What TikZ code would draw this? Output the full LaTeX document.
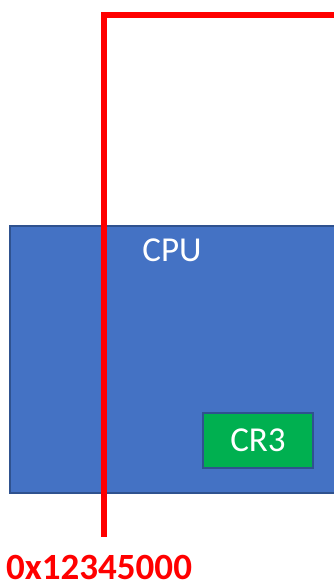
\documentclass[tikz,border=0pt]{standalone}
\usepackage{fontspec}
\setmainfont{Carlito}
\definecolor{cpublue}{HTML}{4472C4}
\definecolor{edgeblue}{HTML}{2F528F}
\definecolor{crgreen}{HTML}{00B050}
\definecolor{addrred}{HTML}{FF0000}
\tikzset{
  bigtext/.style={font=\fontsize{35}{40}\selectfont},
  crbox/.style={draw=edgeblue, line width=1.5pt, fill=crgreen, text=white, bigtext,
    minimum width=110pt, minimum height=55pt, inner sep=0pt},
  cpulabel/.style={text=white, bigtext, inner sep=0pt, anchor=base},
  redline/.style={draw=addrred, line width=6pt, miter limit=10},
  addrlabel/.style={text=addrred, font=\fontsize{37}{40}\selectfont\bfseries, inner sep=0pt, anchor=base west}
}
\begin{document}
\begin{tikzpicture}[x=1pt,y=-1pt]
\useasboundingbox (0,0) rectangle (333,583);
\fill[cpublue] (10,226) rectangle (345,493);
\draw[edgeblue, line width=1.5pt] (345,226) -- (10,226) -- (10,493) -- (345,493);
\node[cpulabel] (cpu) at (172,261) {CPU};
\node[crbox] (cr3) at (258,440.5) {CR3};
\coordinate (corner) at (104,15);
\coordinate (rightend) at (345,15);
\coordinate (lowend) at (104,537);
\draw[redline] (rightend) -- (corner) -- (lowend);
\node[addrlabel] (addr) at (6,579) {0x12345000};
\end{tikzpicture}
\end{document}
